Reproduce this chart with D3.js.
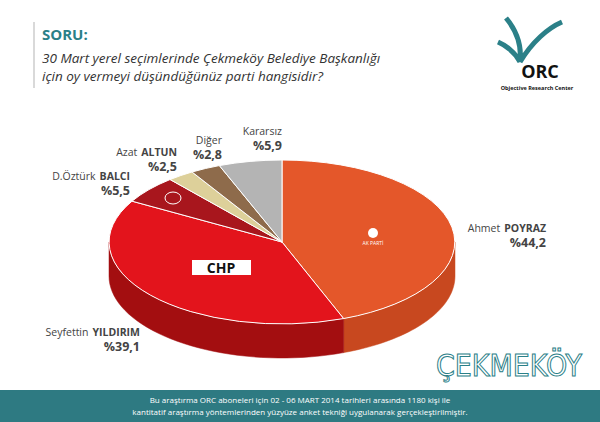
<!DOCTYPE html><html><head><meta charset="utf-8">
<script src="https://cdn.jsdelivr.net/npm/d3@7"></script>
<style>body{margin:0;background:#fff}svg{display:block;font-family:"Open Sans",sans-serif}</style></head><body>
<script>
const parties=["AKP","CHP","MHP","BBP","Diğer","Kararsız"];
const values=[44.2,39.1,5.5,2.5,2.8,5.9];
const colors=["#e4572a","#e3141c","#a8161d","#ddd09a","#8e6b4b","#b4b4b4"];
const sideColors=["#c8481f","#a30e10","#7e1014","#bdb07a","#6e5035","#929292"];
const svg=d3.select("body").append("svg").attr("width",600).attr("height",422);
// header
svg.append("line").attr("x1",34).attr("x2",34).attr("y1",22).attr("y2",88).attr("stroke","#ccc").attr("stroke-width",1.5);
svg.append("text").attr("x",42).attr("y",40).attr("fill","#2b8088").attr("font-size",15).attr("font-weight","bold").text("SORU:");
svg.append("text").attr("x",42).attr("y",63).attr("fill","#333").attr("font-size",13.5).attr("font-style","italic").text("30 Mart yerel seçimlerinde Çekmeköy Belediye Başkanlığı");
svg.append("text").attr("x",42).attr("y",81).attr("fill","#333").attr("font-size",13.5).attr("font-style","italic").text("için oy vermeyi düşündüğünüz parti hangisidir?");
// logo
svg.append("path").attr("d","M506,18 C516,30 522,45 520,62 M520,62 C532,42 548,28 562,22 M520,62 C515,52 505,45 498,42").attr("fill","none").attr("stroke","#2b8088").attr("stroke-width",5);
svg.append("text").attr("x",540).attr("y",78).attr("font-size",18).attr("font-weight","bold").attr("fill","#111").attr("text-anchor","middle").text("ORC");
svg.append("text").attr("x",537).attr("y",90).attr("font-size",5.5).attr("font-weight","bold").attr("fill","#111").attr("text-anchor","middle").text("Objective Research Center");
// pie
const cx=282,cy=242,rx=173,ry=82,depth=34;
const pie=d3.pie().sort(null).value(d=>d)(values);
const P=(a,dy)=>[cx+rx*Math.sin(a),cy-ry*Math.cos(a)+dy];
pie.forEach((d,i)=>{
  const a0=Math.max(d.startAngle,Math.PI/2),a1=Math.min(d.endAngle,3*Math.PI/2);
  if(a1<=a0)return;
  const n=40,top=[],bot=[];
  for(let k=0;k<=n;k++){const a=a0+(a1-a0)*k/n;top.push(P(a,0));bot.push(P(a,depth));}
  svg.append("path").attr("d",d3.line()(top.concat(bot.reverse()))+"Z").attr("fill",sideColors[i]).attr("stroke",sideColors[i]).attr("stroke-width",0.5);
});
const arc=d3.arc().innerRadius(0).outerRadius(1);
const g=svg.append("g").attr("transform",`translate(${cx},${cy}) scale(${rx},${ry})`);
g.selectAll("path").data(pie).join("path").attr("d",arc).attr("fill",(d,i)=>colors[i])
 .attr("stroke","#fff").attr("stroke-width",1).attr("vector-effect","non-scaling-stroke");
// party symbols
svg.append("text").attr("x",373).attr("y",245).attr("font-size",5).attr("fill","#fff").attr("text-anchor","middle").text("AK PARTİ");
svg.append("circle").attr("cx",373).attr("cy",233).attr("r",5).attr("fill","#fff");
svg.append("rect").attr("x",192).attr("y",260).attr("width",59).attr("height",15).attr("fill","#fff");
svg.append("text").attr("x",221).attr("y",273).attr("font-size",14).attr("font-weight","bold").attr("fill","#111").attr("text-anchor","middle").text("CHP");
svg.append("ellipse").attr("cx",173).attr("cy",198).attr("rx",8).attr("ry",6).attr("fill","none").attr("stroke","#fff");
// labels
const labels=[
 {x:546,y:232,n1:"Ahmet",n2:"POYRAZ",v:"%44,2"},
 {x:140,y:336,n1:"Seyfettin",n2:"YILDIRIM",v:"%39,1"},
 {x:130,y:180,n1:"D.Öztürk",n2:"BALCI",v:"%5,5"},
 {x:177,y:156,n1:"Azat",n2:"ALTUN",v:"%2,5"},
 {x:222,y:144,n1:"Diğer",n2:"",v:"%2,8"},
 {x:282,y:135,n1:"Kararsız",n2:"",v:"%5,9"}];
labels.forEach(l=>{
 let x=l.x;
 if(l.n2){
   const b=svg.append("text").attr("x",x).attr("y",l.y).attr("font-size",10.5).attr("font-weight","bold").attr("fill","#444").attr("text-anchor","end").text(l.n2);
   x-=b.node().getComputedTextLength()+4;
 }
 svg.append("text").attr("x",x).attr("y",l.y).attr("font-size",10.5).attr("fill","#444").attr("text-anchor","end").text(l.n1);
 svg.append("text").attr("x",l.x).attr("y",l.y+15).attr("font-size",12.5).attr("font-weight","bold").attr("fill","#444").attr("text-anchor","end").text(l.v);
});
svg.append("text").attr("x",582).attr("y",376).attr("text-anchor","end").attr("font-size",30).attr("fill","none").attr("stroke","#2b8088").attr("stroke-width",1).attr("font-family","DejaVu Sans Condensed, sans-serif").text("ÇEKMEKÖY");
// footer
svg.append("rect").attr("x",0).attr("y",390).attr("width",600).attr("height",32).attr("fill","#2e7a82");
svg.append("text").attr("x",300).attr("y",403).attr("text-anchor","middle").attr("font-size",8).attr("fill","#fff").text("Bu araştırma ORC aboneleri için 02 - 06 MART 2014 tarihleri arasında  1180 kişi ile");
svg.append("text").attr("x",300).attr("y",415).attr("text-anchor","middle").attr("font-size",8).attr("fill","#fff").text("kantitatif araştırma yöntemlerinden yüzyüze anket tekniği  uygulanarak gerçekleştirilmiştir.");
</script></body></html>
